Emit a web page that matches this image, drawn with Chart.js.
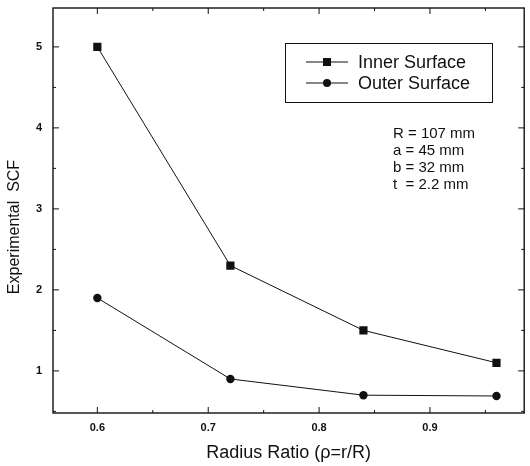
<!DOCTYPE html>
<html>
<head>
<meta charset="utf-8">
<script src="https://cdn.jsdelivr.net/npm/chart.js@4"></script>
<style>
html,body{margin:0;padding:0;background:#fff;}
#wrap{width:530px;height:466px;}
</style>
</head>
<body>
<div id="wrap"><canvas id="c" width="530" height="466"></canvas></div>
<script>
const radiusRatio = [0.6, 0.72, 0.84, 0.96];
const innerSurface = [5.0, 2.3, 1.5, 1.1];
const outerSurface = [1.9, 0.9, 0.7, 0.69];
const xTicks = [0.6, 0.7, 0.8, 0.9];
const xMinorTicks = [0.65, 0.75, 0.85, 0.95];
const yTicks = [1, 2, 3, 4, 5];
const yMinorTicks = [0.5, 1.5, 2.5, 3.5, 4.5];
const seriesLabels = ['Inner Surface', 'Outer Surface'];
const xTitle = 'Radius Ratio (ρ=r/R)';
const yTitle = 'Experimental  SCF';
const annotationLines = ['R = 107 mm', 'a = 45 mm', 'b = 32 mm', 't  = 2.2 mm'];

const FONT = '"Liberation Sans", Arial, sans-serif';
const INK = '#111';

const framePlugin = {
  id: 'frame',
  afterDraw(chart) {
    const {ctx, chartArea: a, scales: {x, y}} = chart;
    ctx.save();
    ctx.strokeStyle = INK;
    ctx.lineWidth = 1.4;
    ctx.strokeRect(a.left, a.top, a.right - a.left, a.bottom - a.top);
    ctx.lineWidth = 1;
    ctx.beginPath();
    const tick = (arr, len) => {
      arr.forEach(v => {
        const px = x.getPixelForValue(v);
        ctx.moveTo(px, a.bottom); ctx.lineTo(px, a.bottom - len);
        ctx.moveTo(px, a.top); ctx.lineTo(px, a.top + len);
      });
    };
    tick(xTicks, 6); tick(xMinorTicks, 3);
    const ytick = (arr, len) => {
      arr.forEach(v => {
        const py = y.getPixelForValue(v);
        ctx.moveTo(a.left, py); ctx.lineTo(a.left + len, py);
        ctx.moveTo(a.right, py); ctx.lineTo(a.right - len, py);
      });
    };
    ytick(yTicks, 6); ytick(yMinorTicks, 3);
    ctx.stroke();

    // y axis title
    ctx.fillStyle = INK;
    ctx.font = '16px ' + FONT;
    ctx.textAlign = 'center';
    ctx.textBaseline = 'middle';
    ctx.save();
    ctx.translate(15, 227);
    ctx.rotate(-Math.PI / 2);
    ctx.fillText(yTitle, 0, 0);
    ctx.restore();

    // legend box
    ctx.textAlign = 'left';
    const bx = 285, by = 43, bw = 207, bh = 59;
    ctx.lineWidth = 1;
    ctx.strokeRect(bx + 0.5, by + 0.5, bw, bh);
    ctx.font = '18px ' + FONT;
    const rows = [62, 83];
    chart.data.datasets.forEach((ds, i) => {
      const ry = rows[i];
      ctx.beginPath();
      ctx.moveTo(306, ry); ctx.lineTo(348, ry);
      ctx.lineWidth = 1; ctx.stroke();
      ctx.beginPath();
      if (ds.pointStyle === 'rect') {
        ctx.rect(323, ry - 4, 8, 8);
      } else {
        ctx.arc(327, ry, 4, 0, Math.PI * 2);
      }
      ctx.fill();
      ctx.fillText(ds.label, 358, ry + 1);
    });

    // annotation
    ctx.font = '15px ' + FONT;
    annotationLines.forEach((t, i) => {
      ctx.fillText(t, 393, 134 + i * 17);
    });
    ctx.restore();
  }
};

new Chart(document.getElementById('c'), {
  type: 'line',
  data: {
    datasets: [
      {
        label: seriesLabels[0],
        data: radiusRatio.map((v, i) => ({x: v, y: innerSurface[i]})),
        borderColor: INK, backgroundColor: INK, borderWidth: 1,
        pointStyle: 'rect', pointRadius: 5.8, pointBorderWidth: 0,
        tension: 0
      },
      {
        label: seriesLabels[1],
        data: radiusRatio.map((v, i) => ({x: v, y: outerSurface[i]})),
        borderColor: INK, backgroundColor: INK, borderWidth: 1,
        pointStyle: 'circle', pointRadius: 4.2, pointBorderWidth: 0,
        tension: 0
      }
    ]
  },
  options: {
    responsive: false,
    animation: false,
    layout: {padding: {right: 2, top: 8, left: 0, bottom: 0}},
    plugins: {legend: {display: false}, tooltip: {enabled: false}},
    scales: {
      x: {
        type: 'linear', min: 0.56, max: 0.985,
        afterBuildTicks: s => { s.ticks = xTicks.map(v => ({value: v})); },
        afterFit: s => { s.height = 53; s.paddingLeft = 0; s.paddingRight = 0; },
        grid: {display: false, drawTicks: false},
        border: {display: false},
        ticks: {color: INK, font: {family: FONT, size: 11, weight: 'bold'}, padding: 8,
                callback: v => v.toFixed(1)},
        title: {display: true, text: xTitle, color: INK,
                font: {family: FONT, size: 18}, padding: {top: 2, bottom: 2}}
      },
      y: {
        type: 'linear', min: 0.48, max: 5.48,
        afterBuildTicks: s => { s.ticks = yTicks.map(v => ({value: v})); },
        afterFit: s => { s.width = 53; s.paddingTop = 0; s.paddingBottom = 0; },
        grid: {display: false, drawTicks: false},
        border: {display: false},
        ticks: {color: INK, font: {family: FONT, size: 11, weight: 'bold'}, padding: 11}
      }
    }
  },
  plugins: [framePlugin]
});
</script>
</body>
</html>
